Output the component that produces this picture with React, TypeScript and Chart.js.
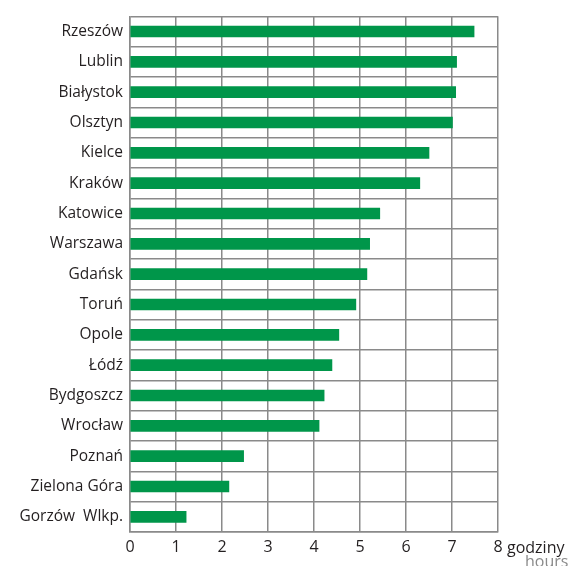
import React, { useEffect, useRef } from "react";
import { Chart, registerables } from "chart.js";

Chart.register(...registerables);

const cities = [
  "Rzeszów", "Lublin", "Białystok", "Olsztyn", "Kielce", "Kraków", "Katowice",
  "Warszawa", "Gdańsk", "Toruń", "Opole", "Łódź", "Bydgoszcz", "Wrocław",
  "Poznań", "Zielona Góra", "Gorzów  Wlkp.",
];
const hoursValues = [
  7.48, 7.1, 7.08, 7.01, 6.5, 6.3, 5.43, 5.21, 5.15, 4.91, 4.54, 4.39, 4.22, 4.11,
  2.47, 2.15, 1.22,
];
const unitLabel = "godziny";
const unitLabelEn = "hours";

const FONT = "'Open Sans', 'Noto Sans', sans-serif";
const GRID = "#8a8a8a";

const unitPlugin = {
  id: "unitPlugin",
  afterDraw(chart: any) {
    const { ctx, scales } = chart;
    const x = scales.x;
    const px = x.getPixelForValue(8);
    ctx.save();
    ctx.font = `16px ${FONT}`;
    ctx.textBaseline = "middle";
    ctx.textAlign = "left";
    ctx.fillStyle = "#231f20";
    ctx.fillText(unitLabel, px + 9, x.bottom - 18);
    ctx.fillStyle = "#8a8a8a";
    ctx.fillText(unitLabelEn, px + 27, x.bottom - 4);
    ctx.restore();
  },
};

export default function App() {
  const ref = useRef<HTMLCanvasElement>(null);
  useEffect(() => {
    document.body.style.margin = "0";
    const chart = new Chart(ref.current!, {
      type: "bar",
      data: {
        labels: cities,
        datasets: [
          {
            data: hoursValues,
            backgroundColor: "#00964a",
            barThickness: 11,
          },
        ],
      },
      options: {
        indexAxis: "y",
        animation: false,
        responsive: false,
        layout: { padding: { top: 13, right: 72, left: 0, bottom: 0 } },
        plugins: { legend: { display: false }, tooltip: { enabled: false } },
        scales: {
          x: {
            min: 0,
            max: 8,
            ticks: {
              stepSize: 1,
              color: "#231f20",
              font: { family: FONT, size: 16 },
              padding: 6,
            },
            grid: { color: GRID, lineWidth: 1.5, drawTicks: false },
            border: { color: GRID, width: 1.5 },
            afterFit: (s: any) => {
              s.height = 34;
            },
          },
          y: {
            ticks: {
              color: "#231f20",
              font: { family: FONT, size: 15.5 },
              padding: 7,
            },
            grid: { color: GRID, lineWidth: 1.5, drawTicks: false, offset: true },
            border: { color: GRID, width: 1.5 },
            afterFit: (s: any) => {
              s.width = 130;
            },
          },
        },
      },
      plugins: [unitPlugin],
    });
    return () => chart.destroy();
  }, []);
  return (
    <div style={{ width: 570, height: 566 }}>
      <canvas ref={ref} width={570} height={566} />
    </div>
  );
}
